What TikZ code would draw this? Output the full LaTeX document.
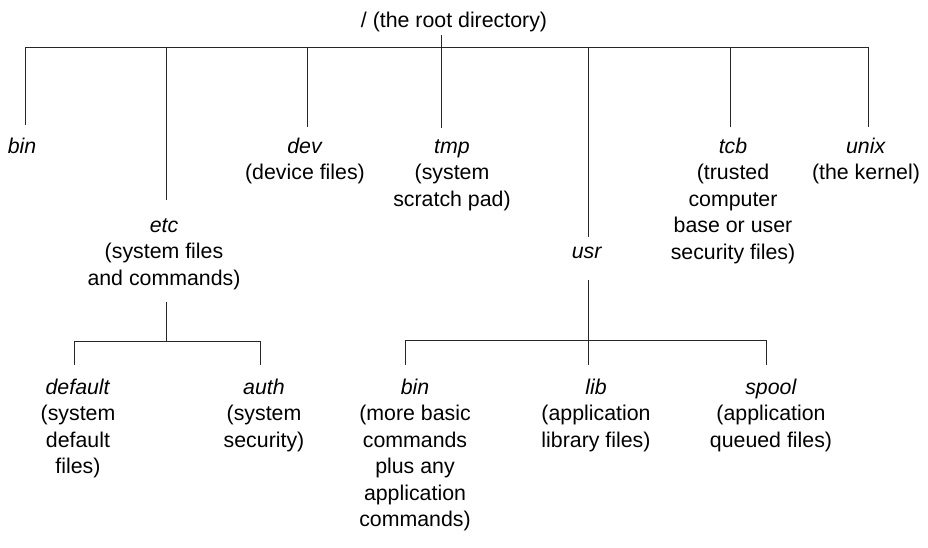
\documentclass[tikz,border=0pt]{standalone}
\usepackage{fontspec}
\setmainfont{Liberation Sans}
\begin{document}
\begin{tikzpicture}[x=0.75pt,y=-0.75pt,
  dir/.style={font=\fontsize{16pt}{19.9pt}\selectfont, align=center,
              inner sep=0pt, anchor=north},
  link/.style={line width=0.75pt, draw=black!85}]
\useasboundingbox (0,0) rectangle (928,547);

% directory names (north anchor = first baseline minus strut height)
\node[dir] (root) at (454,8.4) {\strut/ (the root directory)};

\node[dir] (bin)  at (22,134.4)  {\strut\textit{bin}};
\node[dir] (etc)  at (164,213.4) {\strut\textit{etc}\\(system files\\and commands)};
\node[dir] (dev)  at (305,134.4) {\strut\textit{dev}\\(device files)};
\node[dir] (tmp)  at (452,134.4) {\strut\textit{tmp}\\(system\\scratch pad)};
\node[dir] (usr)  at (587,239.4) {\strut\textit{usr}};
\node[dir] (tcb)  at (733,134.4) {\strut\textit{tcb}\\(trusted\\computer\\base or user\\security files)};
\node[dir] (unix) at (866,134.4) {\strut\textit{unix}\\(the kernel)};

\node[dir] (default) at (78,375.4)  {\strut\textit{default}\\(system\\default\\files)};
\node[dir] (auth)    at (264,375.4) {\strut\textit{auth}\\(system\\security)};

\node[dir] (ubin)  at (415,375.4) {\strut\textit{bin}\\(more basic\\commands\\plus any\\application\\commands)};
\node[dir] (lib)   at (596,375.4) {\strut\textit{lib}\\(application\\library files)};
\node[dir] (spool) at (771,375.4) {\strut\textit{spool}\\(application\\queued files)};

% junctions on the top bar
\coordinate (j-bin)  at (25,47);
\coordinate (j-etc)  at (166,47);
\coordinate (j-dev)  at (307,47);
\coordinate (j-tmp)  at (441,47);
\coordinate (j-usr)  at (588,47);
\coordinate (j-tcb)  at (730,47);
\coordinate (j-unix) at (868,47);

% junctions below etc and usr
\coordinate (k-etc)     at (166,341);
\coordinate (k-default) at (74,341);
\coordinate (k-auth)    at (260,341);
\coordinate (k-usr)     at (588,340);
\coordinate (k-ubin)    at (405,340);
\coordinate (k-spool)   at (766,340);

% root level
\draw[link] (j-tmp |- root.south) -- (j-tmp);
\draw[link] (j-bin) -- (j-unix);
\draw[link, shorten >=7pt]   (j-bin)  -- (j-bin  |- bin.north);
\draw[link, shorten >=10pt]  (j-etc)  -- (j-etc  |- etc.north);
\draw[link, shorten >=5.5pt] (j-dev)  -- (j-dev  |- dev.north);
\draw[link, shorten >=4.8pt] (j-tmp)  -- (j-tmp  |- tmp.north);
\draw[link, shorten >=1.8pt] (j-usr)  -- (j-usr  |- usr.north);
\draw[link, shorten >=5.5pt] (j-tcb)  -- (j-tcb  |- tcb.north);
\draw[link, shorten >=5.5pt] (j-unix) -- (j-unix |- unix.north);

% under etc
\draw[link, shorten <=9pt] (k-etc |- etc.south) -- (k-etc);
\draw[link] (k-default) -- (k-auth);
\draw[link, shorten >=7.8pt] (k-default) -- (k-default |- default.north);
\draw[link, shorten >=7.8pt] (k-auth) -- (k-auth |- auth.north);

% under usr
\draw[link, shorten <=10.5pt, shorten >=7.8pt] (k-usr |- usr.south) -- (k-usr |- lib.north);
\draw[link] (k-ubin) -- (k-spool);
\draw[link, shorten >=7.8pt] (k-ubin) -- (k-ubin |- ubin.north);
\draw[link, shorten >=7.8pt] (k-spool) -- (k-spool |- spool.north);
\end{tikzpicture}
\end{document}
